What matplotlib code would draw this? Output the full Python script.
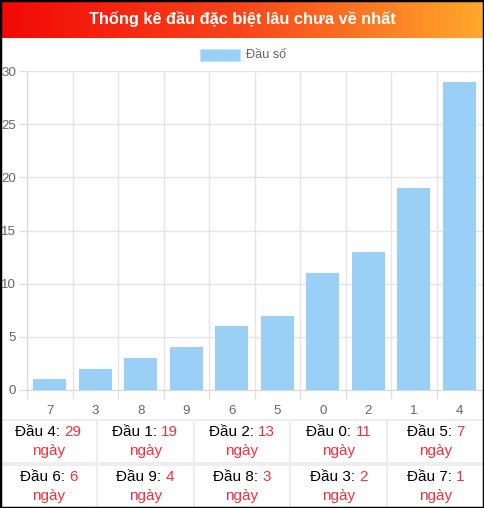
import numpy as np
import matplotlib
matplotlib.use("Agg")
import matplotlib.pyplot as plt
from matplotlib.colors import LinearSegmentedColormap
from matplotlib.patches import Rectangle
from matplotlib.offsetbox import TextArea, HPacker, VPacker, AnnotationBbox

plt.rcParams['font.family'] = ['Liberation Sans', 'DejaVu Sans']

# du lieu
dau = ['7', '3', '8', '9', '6', '5', '0', '2', '1', '4']
so_ngay = [1, 2, 3, 4, 6, 7, 11, 13, 19, 29]
tieu_de = 'Thống kê đầu đặc biệt lâu chưa về nhất'
nhan_chu_giai = 'Đầu số'

W, H = 484, 508
fig = plt.figure(figsize=(W / 100, H / 100), dpi=100)
fig.patch.set_facecolor('white')


def px(x, y, w, h):
    # toa do pixel (tu tren xuong) -> toa do figure
    return [x / W, 1 - (y + h) / H, w / W, h / H]


# thanh tieu de
ax_t = fig.add_axes(px(0, 0, W, 38))
cmap = LinearSegmentedColormap.from_list('g', ['#f20806', '#f8461a', '#ffa82c'])
ax_t.imshow(np.linspace(0, 1, 256).reshape(1, -1), aspect='auto', cmap=cmap,
            extent=[0, 1, 0, 1])
ax_t.set_axis_off()
ax_t.text(0.5, 0.5, tieu_de, color='white', fontsize=11.8, fontweight='bold',
          ha='center', va='center', transform=ax_t.transAxes)

# chu giai
fig.add_artist(Rectangle((200 / W, 1 - 61 / H), 40 / W, 12 / H,
                         transform=fig.transFigure, facecolor='#9ad0f5',
                         edgecolor='#c4e3f9', lw=0.8))
fig.text(246 / W, 1 - 55 / H, nhan_chu_giai, color='#666666', fontsize=9.2,
         ha='left', va='center')

# bieu do cot
ax = fig.add_axes(px(27, 71, 455, 319))
x = np.arange(len(dau))
ax.bar(x, so_ngay, width=0.72, color='#9ad0f5', zorder=3)
ax.set_xlim(-0.5, len(dau) - 0.5)
ax.set_ylim(0, 30)
ax.set_yticks(range(0, 31, 5))
ax.set_xticks(x)
ax.set_xticklabels(dau)
ax.set_xticks(np.arange(-0.5, len(dau)), minor=True)
ax.tick_params(axis='x', which='major', length=0, pad=11, labelsize=9.6,
               labelcolor='#666666')
ax.tick_params(axis='x', which='minor', length=6.5, color='#e0e0e0', width=1)
ax.tick_params(axis='y', length=6, pad=2, labelsize=9.6, labelcolor='#666666',
               color='#e0e0e0', width=1)
ax.grid(axis='y', color='#e5e5e5', lw=1, zorder=0)
ax.grid(axis='x', which='minor', color='#e5e5e5', lw=1, zorder=0)
for s in ['top', 'right']:
    ax.spines[s].set_visible(False)
for s in ['left', 'bottom']:
    ax.spines[s].set_color('#d9d9d9')

# bang so ngay
thu_tu = list(range(len(dau)))[::-1]
col_w = W / 5
row_top = [420, 465]
row_h = 43
for k, i in enumerate(thu_tu):
    r, c = divmod(k, 5)
    x0 = c * col_w
    y0 = row_top[r]
    fig.add_artist(Rectangle((x0 / W, 1 - (y0 + row_h) / H), col_w / W, row_h / H,
                             transform=fig.transFigure, facecolor='white',
                             edgecolor='#eeeeee', lw=1.5))
    dong1 = HPacker(children=[
        TextArea('Đầu %s: ' % dau[i], textprops=dict(color='black', fontsize=11)),
        TextArea(str(so_ngay[i]), textprops=dict(color='#f0313d', fontsize=11)),
    ], pad=0, sep=0, align='baseline')
    dong2 = TextArea('ngày', textprops=dict(color='#f0313d', fontsize=11))
    khoi = VPacker(children=[dong1, dong2], pad=0, sep=4, align='center')
    ab = AnnotationBbox(khoi, ((x0 + col_w / 2) / W, 1 - (y0 + row_h / 2) / H),
                        xycoords='figure fraction', frameon=False,
                        box_alignment=(0.5, 0.5), pad=0)
    fig.add_artist(ab)

# vien ngoai
fig.add_artist(Rectangle((0, 0), 1, 1, transform=fig.transFigure,
                         fill=False, edgecolor='black', lw=2.5))

fig.savefig('out.png', dpi=100)
